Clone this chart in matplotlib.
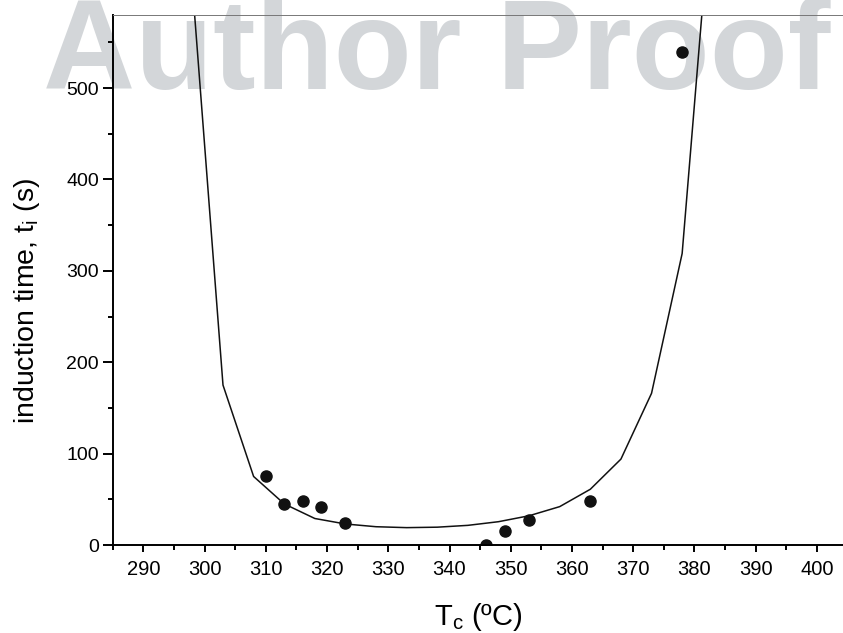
import matplotlib
matplotlib.use('Agg')
import matplotlib.pyplot as plt
import numpy as np

# fitted curve (polyline) and measured induction times
curveT = [298, 303, 308, 313, 318, 323, 328, 333, 338, 343, 348, 353, 358, 363, 368, 373, 378, 383]
curveTi = [612, 175, 75, 45, 29, 23, 20, 19, 19.5, 21.5, 25.5, 32, 42, 61, 94, 166, 319, 725]

expT = [310, 313, 316, 319, 323, 346, 349, 353, 363, 378]
expTi = [75, 45, 48, 42, 24, 0, 15, 27, 48, 540]

xTicks = [290, 300, 310, 320, 330, 340, 350, 360, 370, 380, 390, 400]
yTicks = [0, 100, 200, 300, 400, 500]

plt.rcParams['font.family'] = ['Liberation Sans', 'DejaVu Sans']
plt.rcParams['mathtext.fontset'] = 'custom'
plt.rcParams['mathtext.rm'] = 'Liberation Sans'
plt.rcParams['mathtext.it'] = 'Liberation Sans:italic'

W, H = 843, 633
fig = plt.figure(figsize=(W / 100, H / 100), dpi=100)

# watermark behind the axes
fig.text(43 / W, 1 - 89 / H, 'Author Proof', fontsize=92, fontweight='bold',
         color='#d3d6d9', ha='left', va='baseline', zorder=-1)

left, right, top, bottom = 112.8, 843, 15, 545
ax = fig.add_axes([left / W, 1 - bottom / H, (right - left) / W, (bottom - top) / H])
ax.patch.set_visible(False)

ax.plot(curveT, curveTi, color='#111111', linewidth=1.1)
ax.plot(expT, expTi, 'o', color='#111111', markersize=8)

ax.set_xlim(285, 285 + (right - left) / 6.122)
ax.set_ylim(0, 580)
ax.set_xticks(xTicks)
ax.set_yticks(yTicks)
ax.set_xticks(np.arange(285, 405, 10), minor=True)
ax.set_yticks(np.arange(50, 580, 100), minor=True)

ax.spines['right'].set_visible(False)
ax.spines['left'].set_linewidth(1.4)
ax.spines['bottom'].set_linewidth(1.4)
ax.spines['top'].set_linewidth(0.7)
ax.spines['top'].set_color('#777777')

ax.tick_params(axis='x', which='major', direction='out', length=5, width=1.4, pad=6, labelsize=14.5)
ax.tick_params(axis='x', which='minor', direction='out', length=3.5, width=1.4)
ax.tick_params(axis='y', which='major', direction='out', length=7, width=1.4, pad=3, labelsize=14)
ax.tick_params(axis='y', which='minor', direction='out', length=3.5, width=1.4)

ax.set_xlabel('T$_{\\mathregular{c}}$ (\u00baC)', fontsize=21, va='baseline')
ax.xaxis.set_label_coords((478.5 - left) / (right - left), -(625 - bottom) / (bottom - top))
ax.set_ylabel('induction time, t$_{\\mathregular{i}}$ (s)', fontsize=20.5, va='baseline')
ax.yaxis.set_label_coords(-(left - 34) / (right - left), (bottom - 301) / (bottom - top))

plt.savefig('out.png', dpi=100)
plt.close()
